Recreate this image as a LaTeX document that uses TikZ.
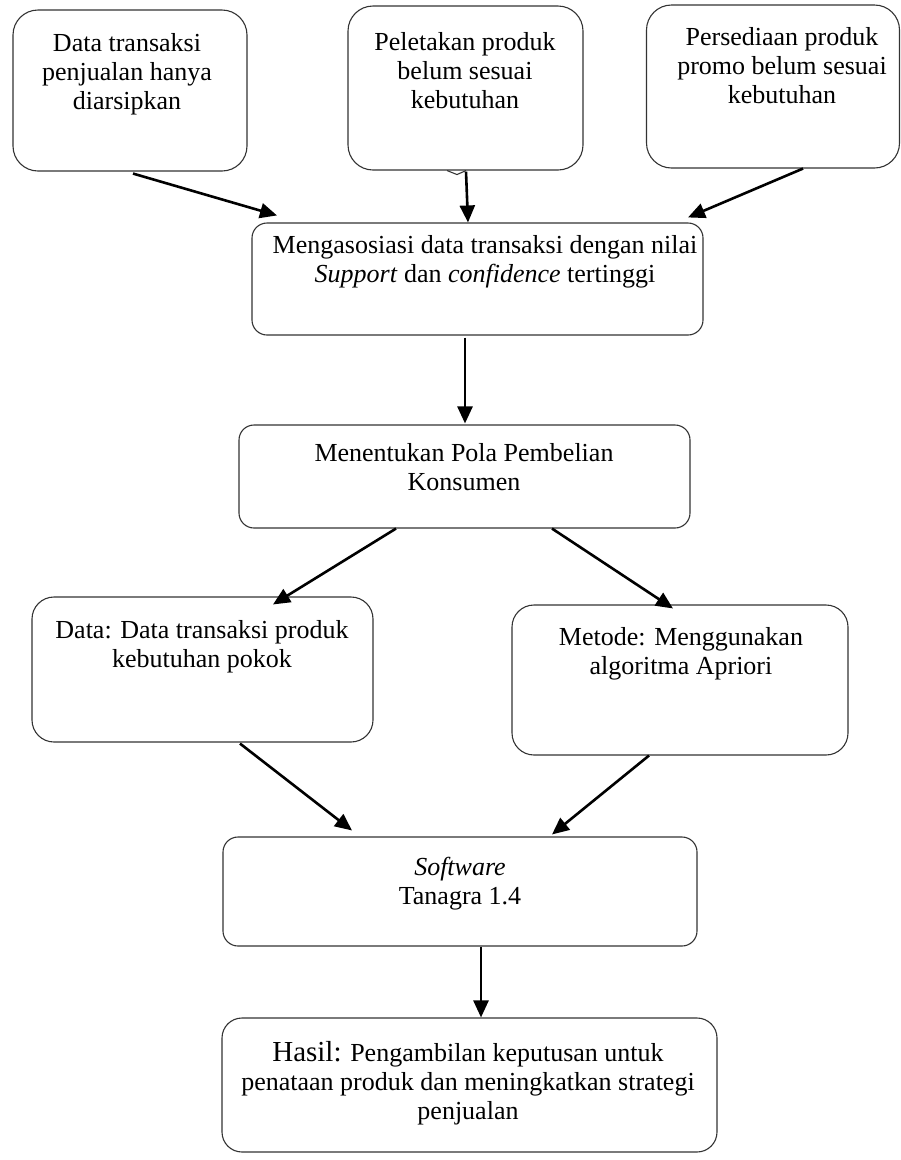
\documentclass[tikz,border=0pt]{standalone}
\usepackage{fontspec}
\setmainfont{Liberation Serif}
\usetikzlibrary{arrows.meta,calc}
\begin{document}
\begin{tikzpicture}[x=1pt,y=-1pt,
  box/.style={draw=black!80, line width=1.1pt, rounded corners=#1, inner sep=0pt},
  box/.default=15pt,
  txt/.style={font=\fontsize{26}{29}\selectfont, align=center, inner sep=0pt, anchor=north},
  arr/.style={line width=2.6pt, -{Triangle[length=17pt,width=15pt]}}]
\useasboundingbox (0,0) rectangle (901,1160);
% boxes
\node[box=25pt, minimum width=234pt, minimum height=161pt] (A) at (130,90.5) {};
\node[box=25pt, minimum width=235pt, minimum height=164pt] (B) at (465.5,88) {};
\node[box=25pt, minimum width=253pt, minimum height=163pt] (C) at (773,86.5) {};
\node[box=15pt, minimum width=451pt, minimum height=112pt] (D) at (477.5,279) {};
\node[box=15pt, minimum width=451pt, minimum height=103pt] (E) at (464.5,476.5) {};
\node[box=22pt, minimum width=341pt, minimum height=145pt] (F) at (202.5,669.5) {};
\node[box=22pt, minimum width=336pt, minimum height=150pt] (G) at (680,680) {};
\node[box=15pt, minimum width=474pt, minimum height=109pt] (H) at (460,891.5) {};
\node[box=20pt, minimum width=495pt, minimum height=134pt] (I) at (469.5,1085) {};
% small tail under B
\draw[draw=black!80, line width=1.1pt] ($(B.south)+(-18.5,0)$) -- ++(10,4) -- ++(9,-4);
% texts
\node[txt] (At) at (127,33) {Data transaksi\\penjualan hanya\\diarsipkan};
\node[txt] (Bt) at (465,32) {Peletakan produk\\belum sesuai\\kebutuhan};
\node[txt] (Ct) at (782,27) {Persediaan produk\\promo belum sesuai\\kebutuhan};
\node[txt] (Dt) at (485,235) {Mengasosiasi data transaksi dengan nilai\\\textit{Support} dan \textit{confidence} tertinggi};
\node[txt] (Et) at (464,443) {Menentukan Pola Pembelian\\Konsumen};
\node[txt] (Ft) at (202,620) {Data: Data transaksi produk\\kebutuhan pokok};
\node[txt] (Gt) at (681,627) {Metode: Menggunakan\\algoritma Apriori};
\node[txt] (Ht) at (460,857) {\textit{Software}\\Tanagra 1.4};
\node[txt] (It) at (468,1041) {{\fontsize{29}{29}\selectfont Hasil:} Pengambilan keputusan untuk\\penataan produk dan meningkatkan strategi\\penjualan};
% connectors
\draw[arr] ($(A.south)+(3,2)$) -- ($(D.north)+(-200.5,-7)$);
\draw[arr] ($(B.south)+(0.5,1)$) -- ($(D.north)+(-9.5,0)$);
\draw[arr] ($(C.south)+(30,0)$) -- ($(D.north)+(210.5,-5)$);
\draw[arr] ($(D.south)+(-12.5,2)$) -- ($(E.north)+(0.5,-1)$);
\draw[arr] ($(E.south)+(-68.5,0)$) -- ($(F.north)+(70.5,8)$);
\draw[arr] ($(E.south)+(87.5,0)$) -- ($(G.north)+(-7,4)$);
\draw[arr] ($(F.south)+(37.5,1)$) -- ($(H.north)+(-108,-6)$);
\draw[arr] ($(G.south)+(-31,0)$) -- ($(H.north)+(92,-2)$);
\draw[arr] ($(H.south)+(21,0)$) -- ($(I.north)+(11.5,0)$);
\end{tikzpicture}
\end{document}
